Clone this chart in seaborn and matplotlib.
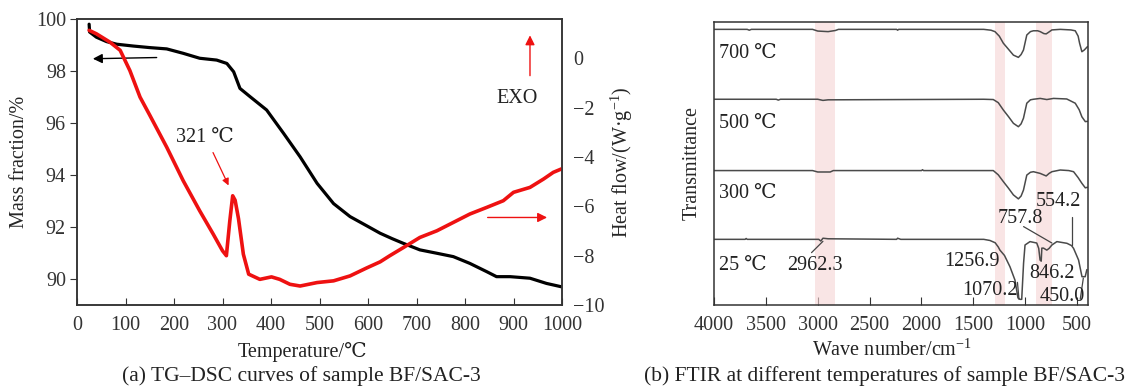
import numpy as np
import pandas as pd
import matplotlib
matplotlib.use("Agg")
import matplotlib.pyplot as plt
import seaborn as sns

# ---------------- data ----------------
tg_temp = [25, 26, 40, 61, 82, 116, 150, 185, 219, 253, 288, 309, 323, 336, 357, 391,
           426, 460, 495, 529, 563, 597, 625, 650, 673, 707, 742, 776, 810, 845, 865,
           893, 934, 968, 999]
tg_mass = [99.8, 99.5, 99.3, 99.13, 99.03, 98.96, 98.9, 98.85, 98.68, 98.49, 98.42,
           98.29, 97.97, 97.33, 97.01, 96.5, 95.6, 94.7, 93.68, 92.9, 92.4, 92.05,
           91.76, 91.55, 91.37, 91.12, 90.99, 90.86, 90.6, 90.28, 90.09, 90.09, 90.03,
           89.83, 89.7]

dsc_temp = [25, 40, 68, 89, 109, 130, 150, 185, 219, 253, 281, 300, 308, 315, 321, 326,
            333, 343, 354, 377, 401, 418, 439, 460, 495, 529, 563, 597, 625, 645, 673,
            707, 742, 776, 810, 845, 879, 900, 934, 962, 982, 999]
dsc_heat = [1.14, 1.0, 0.66, 0.33, -0.49, -1.57, -2.3, -3.6, -4.96, -6.18, -7.13, -7.8,
            -8.0, -6.6, -5.57, -5.75, -6.5, -7.94, -8.75, -8.96, -8.86, -8.96, -9.16,
            -9.23, -9.09, -9.02, -8.82, -8.5, -8.25, -8.0, -7.67, -7.26, -6.99, -6.65,
            -6.31, -6.04, -5.77, -5.43, -5.23, -4.89, -4.62, -4.48]

wn_700 = [4000, 3680, 3660, 3640, 3050, 3000, 2900, 2830, 2800, 2240, 2230, 2220, 1400,
          1330, 1292, 1250, 1211, 1160, 1114, 1066, 1040, 1017, 985, 950, 921, 880, 856,
          820, 798, 770, 743, 663, 560, 518, 490, 476, 454, 431, 400]
tr_700 = [97.4, 97.4, 97.1, 97.4, 97.4, 96.8, 96.6, 97.0, 97.4, 97.4, 97.1, 97.4, 97.4,
          97.1, 96.6, 95.0, 92.5, 90.3, 88.3, 87.5, 88.5, 90.1, 95.4, 96.6, 96.9, 96.9,
          96.6, 95.9, 95.8, 96.5, 97.2, 97.4, 97.2, 96.9, 95.0, 92.5, 89.5, 90.1, 91.3]

wn_500 = [4000, 3400, 3380, 3360, 3000, 2950, 2900, 1400, 1308, 1260, 1211, 1160, 1114,
          1066, 1040, 1017, 985, 950, 921, 856, 792, 727, 600, 518, 480, 454, 421, 400]
tr_500 = [72.7, 72.7, 72.4, 72.7, 72.7, 72.3, 72.5, 72.7, 72.6, 71.5, 68.9, 66.5, 64.2,
          63.0, 64.0, 66.0, 71.3, 72.5, 72.7, 73.0, 72.6, 73.0, 72.8, 71.3, 69.0, 66.5,
          64.8, 64.9]

wn_300 = [4000, 3050, 3000, 2880, 2850, 2000, 1990, 1980, 1308, 1260, 1211, 1160, 1114,
          1066, 1040, 1017, 985, 950, 921, 856, 798, 770, 743, 663, 580, 534, 490, 454,
          421, 400]
tr_300 = [47.5, 47.5, 47.0, 47.0, 47.5, 47.5, 47.8, 47.5, 47.5, 46.0, 43.6, 41.2, 38.9,
          37.5, 38.5, 40.6, 45.9, 46.9, 47.1, 46.5, 45.6, 46.5, 47.1, 47.7, 47.5, 47.1,
          45.0, 43.0, 41.4, 41.6]

wn_25 = [4000, 3700, 3690, 3680, 2990, 2970, 2950, 2900, 2240, 2230, 2200, 1400, 1340,
         1290, 1260, 1244, 1200, 1147, 1099, 1070, 1050, 1034, 1016, 1002, 954, 889, 870,
         857, 846, 840, 824, 792, 770, 743, 695, 598, 554, 534, 486, 453, 422, 406]
tr_25 = [23.2, 23.2, 23.5, 23.2, 23.2, 22.6, 23.6, 23.4, 23.2, 23.6, 23.2, 23.2, 22.8,
         22.0, 20.5, 19.4, 17.5, 13.5, 8.8, 2.5, 2.0, 2.0, 14.8, 21.2, 22.4, 21.9, 20.0,
         15.9, 15.5, 20.1, 20.1, 19.4, 20.0, 21.2, 22.4, 21.8, 21.0, 20.0, 15.9, 10.0,
         10.0, 12.5]

bands = [(3023, 2830), (1292, 1195), (896, 741)]
temp_labels = ["700 ℃", "500 ℃", "300 ℃", "25 ℃"]
label_y = [89, 64, 39.5, 14]
x_ticks_a = list(range(0, 1001, 100))
y_ticks_a = [90, 92, 94, 96, 98, 100]
y_ticks_b = [0, -2, -4, -6, -8, -10]
x_ticks_c = list(range(500, 4001, 500))

# ---------------- style ----------------
sns.set_style("ticks")
plt.rcParams["font.family"] = ["Liberation Serif", "DejaVu Serif", "DejaVu Sans", "Noto Sans CJK SC"]
plt.rcParams["mathtext.fontset"] = "custom"
plt.rcParams["mathtext.rm"] = "Liberation Serif"
plt.rcParams["mathtext.it"] = "Liberation Serif:italic"
plt.rcParams["axes.edgecolor"] = "#333333"
plt.rcParams["axes.linewidth"] = 1.1
plt.rcParams["xtick.color"] = "#333333"
plt.rcParams["ytick.color"] = "#333333"
plt.rcParams["text.color"] = "#222222"

FS = 14.5
CAP = 15.5
fig = plt.figure(figsize=(11.28, 3.87), dpi=100)

# ---------------- panel (a) ----------------
ax1 = fig.add_axes([77 / 1128, 82 / 387, 485 / 1128, 286 / 387])
ax2 = ax1.twinx()

tg_df = pd.DataFrame({"T": tg_temp, "m": tg_mass})
dsc_df = pd.DataFrame({"T": dsc_temp, "h": dsc_heat})
sns.lineplot(data=tg_df, x="T", y="m", ax=ax1, color="black", lw=2.3, estimator=None, sort=False)
sns.lineplot(data=dsc_df, x="T", y="h", ax=ax2, color="#ee1111", lw=2.6, estimator=None, sort=False)

ax1.set_xlim(0, 1000)
ax1.set_ylim(89, 100)
ax2.set_ylim(-10, 1.6)
ax1.set_xticks(x_ticks_a)
ax1.set_yticks(y_ticks_a)
ax2.set_yticks(y_ticks_b)
ax2.set_yticklabels(["0", "−2", "−4", "−6", "−8", "−10"])
ax1.tick_params(axis="x", direction="in", length=5, labelsize=FS, pad=8)
ax1.tick_params(axis="y", direction="out", length=5, labelsize=FS, pad=3)
ax2.tick_params(axis="y", direction="out", length=0, labelsize=FS, pad=8)
ax1.set_xlabel("")
ax1.set_ylabel("Mass fraction/%", fontsize=FS)
ax1.yaxis.set_label_coords((29 - 77) / 485, 0.5)
ax2.set_xlabel("")
ax2.set_ylabel("Heat flow/(W·g$^{-1}$)", fontsize=FS)
ax2.yaxis.set_label_coords((609 - 77) / 485, 0.5)
for a in (ax1, ax2):
    for s in a.spines.values():
        s.set_visible(True)
        s.set_color("#333333")

ax1.annotate("", xy=(27, 98.47), xytext=(170, 98.52),
             arrowprops=dict(arrowstyle="-|>", color="black", lw=1.0, mutation_scale=14))
ax2.annotate("", xy=(975, -6.45), xytext=(841, -6.45),
             arrowprops=dict(arrowstyle="-|>", color="#ee1111", lw=1.0, mutation_scale=14))
ax2.annotate("", xy=(934, 1.05), xytext=(934, -0.81),
             arrowprops=dict(arrowstyle="-|>", color="#ee1111", lw=1.0, mutation_scale=14))
ax2.text(907, -1.63, "EXO", fontsize=FS, ha="center", va="center")
ax1.annotate("", xy=(315, 93.5), xytext=(278, 94.96),
             arrowprops=dict(arrowstyle="-|>", color="#ee1111", lw=0.9, mutation_scale=10))
ax1.text(264, 95.46, "321 ℃", fontsize=FS, ha="center", va="center")

fig.text(302 / 1128, 1 - 352 / 387, "Temperature/℃", fontsize=FS, ha="center", va="center")
fig.text(301 / 1128, 1 - 376 / 387, "(a) TG–DSC curves of sample BF/SAC-3", fontsize=CAP,
         ha="center", va="center")

# ---------------- panel (b) ----------------
ax3 = fig.add_axes([714 / 1128, 82 / 387, 374 / 1128, 283 / 387])
for lo, hi in bands:
    ax3.axvspan(hi, lo, color="#f6d4d4", alpha=0.6, lw=0)

spectra = pd.concat([
    pd.DataFrame({"wn": wn_700, "tr": tr_700, "s": "700"}),
    pd.DataFrame({"wn": wn_500, "tr": tr_500, "s": "500"}),
    pd.DataFrame({"wn": wn_300, "tr": tr_300, "s": "300"}),
    pd.DataFrame({"wn": wn_25, "tr": tr_25, "s": "25"}),
])
sns.lineplot(data=spectra, x="wn", y="tr", units="s", estimator=None, ax=ax3,
             color="#4a4a4a", lw=1.1, sort=False)

ax3.set_xlim(4000, 395)
ax3.set_ylim(0, 100)
ax3.set_xticks(x_ticks_c)
ax3.set_yticks([])
ax3.tick_params(axis="x", direction="in", length=6, labelsize=FS, pad=8)
ax3.set_xlabel("")
ax3.set_ylabel("Transmittance", fontsize=FS)
ax3.yaxis.set_label_coords((702 - 714) / 374, 0.5)
for s in ax3.spines.values():
    s.set_visible(True)
    s.set_color("#333333")

for lab, yy in zip(temp_labels, label_y):
    ax3.text(3955, yy, lab, fontsize=FS, ha="left", va="center")

ann_fs = FS
ax3.text(3030, 14, "2962.3", fontsize=ann_fs, ha="center", va="center")
ax3.plot([3060, 2950], [18.5, 22.5], color="#444444", lw=0.9)
ax3.text(1515, 15.2, "1256.9", fontsize=ann_fs, ha="center", va="center")
ax3.text(1340, 5.3, "1070.2", fontsize=ann_fs, ha="center", va="center")
ax3.plot([1060, 1075], [2.0, 8.0], color="#444444", lw=0.9)
ax3.text(743, 11.3, "846.2", fontsize=ann_fs, ha="center", va="center")
ax3.text(1050, 30.7, "757.8", fontsize=ann_fs, ha="center", va="center")
ax3.plot([1016, 743], [27.7, 21.9], color="#444444", lw=0.9)
ax3.text(683, 36.5, "554.2", fontsize=ann_fs, ha="center", va="center")
ax3.plot([554, 554], [31.2, 21.2], color="#444444", lw=0.9)
ax3.text(645, 2.9, "450.0", fontsize=ann_fs, ha="center", va="center")
ax3.plot([470, 440], [2.0, 9.5], color="#444444", lw=0.9)

fig.text(892 / 1128, 1 - 350 / 387, "Wave number/cm$^{-1}$", fontsize=FS, ha="center", va="center")
fig.text(885 / 1128, 1 - 376 / 387, "(b) FTIR at different temperatures of sample BF/SAC-3",
         fontsize=CAP, ha="center", va="center")

fig.savefig("out.png", dpi=100)
